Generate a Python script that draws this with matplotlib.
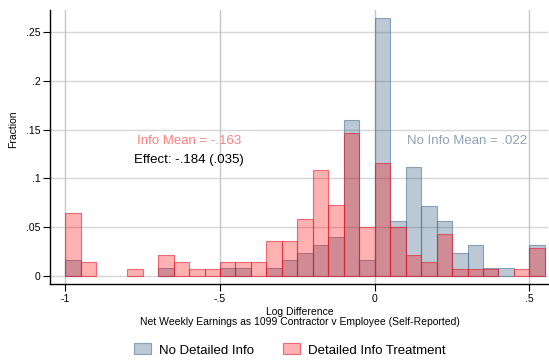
import matplotlib
matplotlib.use("Agg")
import matplotlib.pyplot as plt
import numpy as np

plt.rcParams['font.family'] = ['Liberation Sans', 'DejaVu Sans']

# left edges of the 0.05-wide bins
bin_left = [-1.00, -0.95, -0.90, -0.85, -0.80, -0.75, -0.70, -0.65, -0.60, -0.55,
            -0.50, -0.45, -0.40, -0.35, -0.30, -0.25, -0.20, -0.15, -0.10, -0.05,
            0.00, 0.05, 0.10, 0.15, 0.20, 0.25, 0.30, 0.35, 0.40, 0.45, 0.50]
bin_width = 0.05

# fraction per bin, control group
no_info = [0.016, 0, 0, 0, 0, 0, 0.008, 0, 0, 0,
           0.008, 0.008, 0, 0.008, 0.016, 0.024, 0.032, 0.040, 0.160, 0.016,
           0.264, 0.056, 0.112, 0.072, 0.056, 0.024, 0.032, 0.008, 0.008, 0,
           0.032]

# fraction per bin, treatment group
info = [0.065, 0.0145, 0, 0, 0.0072, 0, 0.0217, 0.0145, 0.0072, 0.0072,
        0.0145, 0.0145, 0.0145, 0.0362, 0.0362, 0.058, 0.1087, 0.0725, 0.146, 0.0507,
        0.1159, 0.0507, 0.0217, 0.0145, 0.0435, 0.0072, 0.0072, 0.0072, 0, 0.0072,
        0.029]

x_ticks = [-1, -0.5, 0, 0.5]
x_tick_labels = ["-1", "-.5", "0", ".5"]
y_ticks = [0, 0.05, 0.1, 0.15, 0.2, 0.25]
y_tick_labels = ["0", ".05", ".1", ".15", ".2", ".25"]


def nonzero(left, vals):
    # empty bins are not drawn at all (no outline on the baseline)
    left, vals = np.asarray(left), np.asarray(vals)
    keep = vals > 0
    return left[keep], vals[keep]


fig = plt.figure(figsize=(5.49, 3.6), dpi=100)
ax = fig.add_axes([50 / 549, 76 / 360, 498 / 549, 274 / 360])

# grid lines (Stata style)
for yv in y_ticks:
    ax.axhline(yv, color="#d6d6d6", lw=1.0, zorder=0)
for xv in x_ticks:
    ax.axvline(xv, color="#c6c6c6", lw=1.0, zorder=0)

bx, by = nonzero(bin_left, no_info)
ax.bar(bx, by, width=bin_width, align="edge",
       facecolor=(26 / 255, 71 / 255, 111 / 255, 0.29),
       edgecolor=(0.30, 0.45, 0.60, 0.6), linewidth=0.8, zorder=2,
       label="No Detailed Info")
rx, ry = nonzero(bin_left, info)
ax.bar(rx, ry, width=bin_width, align="edge",
       facecolor=(1, 0, 0, 0.3),
       edgecolor=(0.90, 0.10, 0.18, 0.6), linewidth=0.8, zorder=3,
       label="Detailed Info Treatment")

ax.text(-0.6, 0.1386, "Info Mean = -.163", color="#ff7f7f", fontsize=9.5,
        ha="center", va="center", zorder=4)
ax.text(-0.6, 0.119, "Effect: -.184 (.035)", color="black", fontsize=9.5,
        ha="center", va="center", zorder=4)
ax.text(0.3, 0.1386, "No Info Mean = .022", color="#8ea2b8", fontsize=9.5,
        ha="center", va="center", zorder=4)

ax.set_xlim(-1.0495, 0.56)
ax.set_ylim(-0.0082, 0.2725)
ax.set_xticks(x_ticks)
ax.set_xticklabels(x_tick_labels)
ax.set_yticks(y_ticks)
ax.set_yticklabels(y_tick_labels)
ax.tick_params(axis="both", direction="out", length=5, width=0.8,
               labelsize=7.5, colors="black", pad=2)

for side in ["top", "right"]:
    ax.spines[side].set_visible(False)
for side in ["left", "bottom"]:
    ax.spines[side].set_linewidth(1.0)
    ax.spines[side].set_color("black")

fig.text(300 / 549, 1 - 317 / 360,
         "Log Difference\nNet Weekly Earnings as 1099 Contractor v Employee (Self-Reported)",
         ha="center", va="center", fontsize=7.5, linespacing=1.0)
fig.text(13 / 549, 1 - 129 / 360, "Fraction", rotation=90,
         ha="center", va="center", fontsize=7.5)

handles, labels = ax.get_legend_handles_labels()
fig.legend(handles, labels, loc="center", bbox_to_anchor=(290 / 549, 1 - 350 / 360),
           ncol=2, frameon=False, fontsize=9.5, handlelength=1.3, handleheight=0.9,
           columnspacing=2.2, handletextpad=0.6)

fig.savefig("out.png", dpi=100)
